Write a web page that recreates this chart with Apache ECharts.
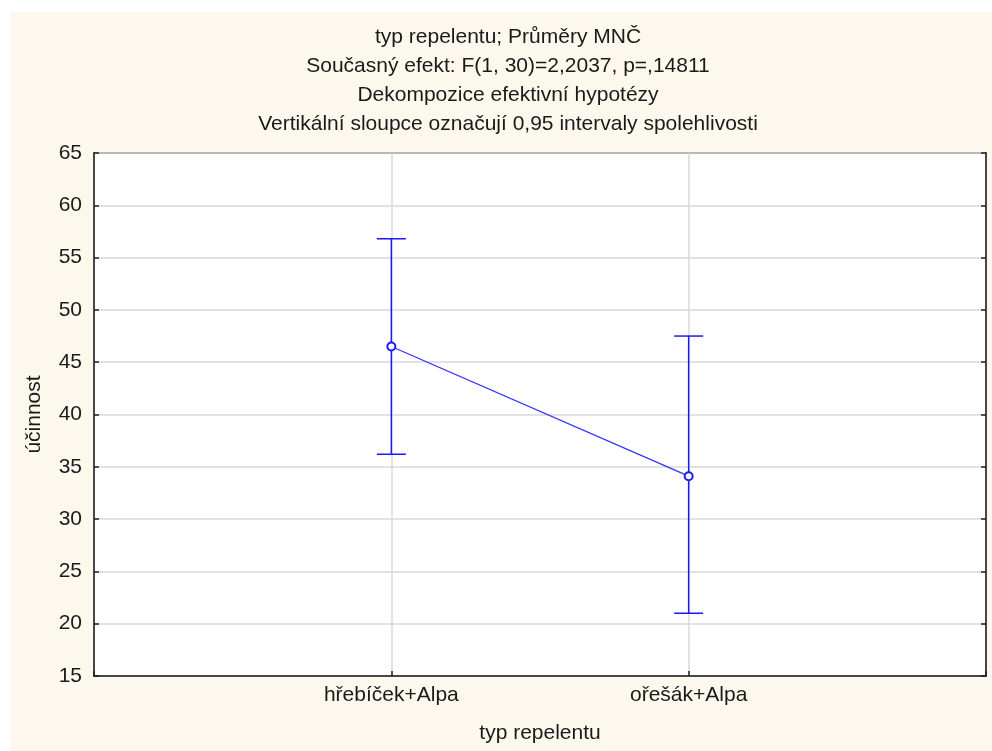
<!DOCTYPE html>
<html>
<head>
<meta charset="utf-8">
<script src="https://cdn.jsdelivr.net/npm/echarts@6/dist/echarts.min.js"></script>
<style>html,body{margin:0;padding:0;background:#fff;}#c{width:992px;height:751px;}</style>
</head>
<body>
<div id="c"></div>
<script>
var titleLines = ['typ repelentu; Průměry MNČ','Současný efekt: F(1, 30)=2,2037, p=,14811','Dekompozice efektivní hypotézy','Vertikální sloupce označují 0,95 intervaly spolehlivosti'];
var categories = ['hřebíček+Alpa','ořešák+Alpa'];
var means = [46.5, 34.1];
var lower = [36.2, 21.0];
var upper = [56.8, 47.5];
var yTicks = [15,20,25,30,35,40,45,50,55,60,65];

var FONT = '"Liberation Sans", Arial, sans-serif';
var FS = 21;
var axisCats = [''].concat(categories).concat(['']);
var chart = echarts.init(document.getElementById('c'));
var graphics = [{type:'rect', shape:{x:10,y:12,width:982,height:739}, style:{fill:'#fcf8ee'}, z:-10, silent:true}];
titleLines.forEach(function(t,i){
  graphics.push({type:'text', x:508, y:37+i*29, style:{text:t, font:FS+'px '+FONT, fill:'#1a1a1a', textAlign:'center', textVerticalAlign:'middle'}, z:10});
});
var meanData = means.map(function(v,i){return [i+1, v];});
var errData = categories.map(function(c,i){return [i+1, lower[i], upper[i]];});
var option = {
  backgroundColor:'#fff',
  animation:false,
  graphic: graphics,
  grid:{left:94,right:6,top:153,bottom:75,show:true,backgroundColor:'#fff',borderColor:'#222',borderWidth:1.5,containLabel:false},
  xAxis:{type:'category',data:axisCats,boundaryGap:false,
    name:'typ repelentu',nameLocation:'middle',nameGap:47,
    nameTextStyle:{fontFamily:FONT,fontSize:FS,color:'#1a1a1a'},
    axisLine:{show:true,lineStyle:{color:'#222',width:1.5}},
    axisTick:{show:true,inside:true,length:5,lineStyle:{color:'#222',width:1.5}},
    axisLabel:{fontFamily:FONT,fontSize:FS,color:'#1a1a1a',margin:9,interval:0},
    splitLine:{show:true,lineStyle:{color:'#d9d9d9',width:1.5}}},
  yAxis:[{type:'value',min:15,max:65,interval:5,
    name:'účinnost',nameLocation:'middle',nameGap:49,nameRotate:90,
    nameTextStyle:{fontFamily:FONT,fontSize:FS,color:'#1a1a1a'},
    axisLine:{show:true,lineStyle:{color:'#222',width:1.5}},
    axisTick:{show:true,inside:true,length:5,lineStyle:{color:'#222',width:1.5}},
    axisLabel:{fontFamily:FONT,fontSize:FS,color:'#1a1a1a',margin:12,
      formatter:function(v){return yTicks.indexOf(v)>=0?String(v):'';}},
    splitLine:{show:true,lineStyle:{color:'#d9d9d9',width:1.5}}},
   {type:'value',min:15,max:65,interval:5,position:'right',
    axisLine:{show:true,lineStyle:{color:'#222',width:1.5}},
    axisTick:{show:true,inside:true,length:5,lineStyle:{color:'#222',width:1.5}},
    axisLabel:{show:false},splitLine:{show:false}}],
  series:[
    {type:'custom',data:errData,z:3,
     renderItem:function(params,api){
       var x=api.value(0);
       var lo=api.coord([x,api.value(1)]);
       var hi=api.coord([x,api.value(2)]);
       var hw=14.5;
       var st={stroke:'#1a1aff',lineWidth:1.5};
       return {type:'group',children:[
         {type:'line',shape:{x1:lo[0],y1:lo[1],x2:hi[0],y2:hi[1]},style:st},
         {type:'line',shape:{x1:lo[0]-hw,y1:lo[1],x2:lo[0]+hw,y2:lo[1]},style:st},
         {type:'line',shape:{x1:hi[0]-hw,y1:hi[1],x2:hi[0]+hw,y2:hi[1]},style:st}
       ]};
     }},
    {type:'line',data:meanData,z:4,symbol:'emptyCircle',symbolSize:8,
     lineStyle:{color:'#3333ff',width:1.3},
     itemStyle:{color:'#1a1aff',borderColor:'#1a1aff',borderWidth:2}}
  ]
};
chart.setOption(option);
</script>
</body>
</html>
